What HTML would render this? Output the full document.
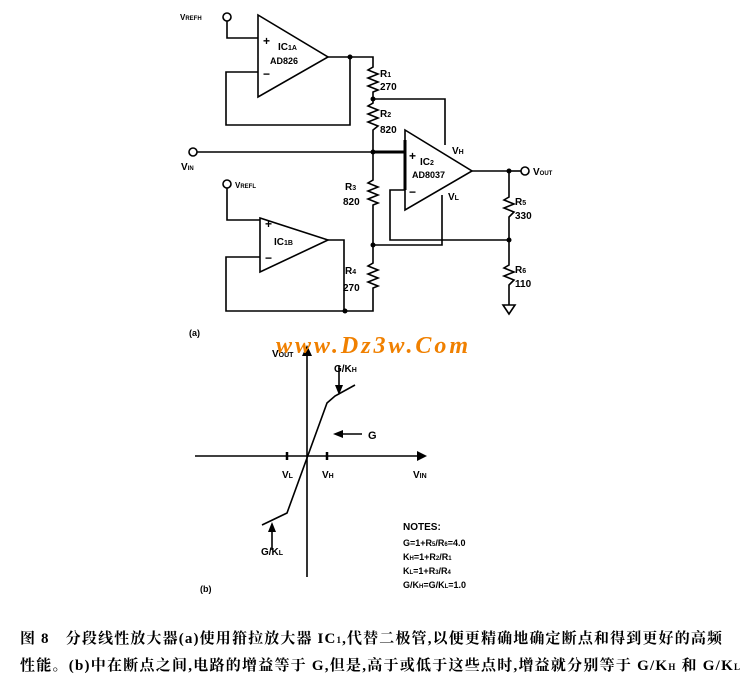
<!DOCTYPE html>
<html><head><meta charset="utf-8"><style>
html,body{margin:0;padding:0;background:#fff;}
svg{display:block}
text{font-family:"Liberation Sans",sans-serif;font-weight:bold;fill:#000}
.s{font-size:10px}
.cap{font-family:"Liberation Serif","Noto Serif CJK SC",serif;font-weight:bold;font-size:15px}
</style></head><body>
<svg width="742" height="684" viewBox="0 0 742 684" xmlns="http://www.w3.org/2000/svg">
<g fill="none" stroke="#000" stroke-width="1.6">
<polygon points="258,15 258,97 328,57"/>
<circle cx="227" cy="17" r="4"/>
<polyline points="227,21 227,38 258,38"/>
<polyline points="258,72 226,72 226,125 350,125 350,57"/>
<polyline points="328,57 373,57 373,67 368,70 378,74 368,78 378,82 368,86 378,90 373,92 373,103 368,106 378,110 368,114 378,118 368,122 378,126 373,130 373,180 368,183 378,187 368,191 378,195 368,199 378,203 373,205 373,263 368,266 378,270 368,274 378,278 368,282 378,286 373,288 373,311 226,311 226,257 260,257"/>
<circle cx="193" cy="152" r="4"/>
<line x1="197" y1="152" x2="373" y2="152"/>
<line x1="373" y1="152" x2="405" y2="152" stroke-width="3"/>
<polygon points="405,130 405,210 472,171"/>
<line x1="405" y1="140" x2="405" y2="190" stroke-width="3"/>
<polyline points="373,99 445,99 445,145"/>
<polyline points="442,195 442,245 373,245"/>
<polyline points="405,190 390,190 390,240 509,240"/>
<polyline points="472,171 509,171 509,197 504,200 514,204 504,208 514,212 509,217 509,265 504,268 514,272 504,276 514,280 509,285 509,305"/>
<line x1="509" y1="171" x2="521" y2="171"/>
<circle cx="525" cy="171" r="4"/>
<polygon points="503,305 515,305 509,314"/>
<polygon points="260,218 260,272 328,240"/>
<circle cx="227" cy="184" r="4"/>
<polyline points="227,188 227,220 260,220"/>
<polyline points="328,240 344,240 344,311"/>
<line x1="195" y1="456" x2="420" y2="456"/>
<line x1="307" y1="352" x2="307" y2="577"/>
<polyline points="262,525 287,513 327,403 335,396 355,385"/>
<line x1="287" y1="452" x2="287" y2="460" stroke-width="2.5"/>
<line x1="327" y1="452" x2="327" y2="460" stroke-width="2.5"/>
<line x1="339" y1="366" x2="339" y2="387"/>
<line x1="341" y1="434" x2="362" y2="434"/>
<line x1="272" y1="550" x2="272" y2="530"/>
</g>
<g fill="#000">
<circle cx="350" cy="57" r="2.5"/><circle cx="373" cy="99" r="2.5"/><circle cx="373" cy="152" r="2.5"/>
<circle cx="373" cy="245" r="2.5"/><circle cx="345" cy="311" r="2.5"/><circle cx="509" cy="171" r="2.5"/><circle cx="509" cy="240" r="2.5"/>
<polygon points="427,456 417,451 417,461"/>
<polygon points="307,345 302,356 312,356"/>
<polygon points="339,395 335,385 343,385"/>
<polygon points="333,434 343,430 343,438"/>
<polygon points="272,522 268,532 276,532"/>
</g>
<g class="s">
<text x="180" y="20" font-size="8">V<tspan font-size="6">REFH</tspan></text>
<text x="263" y="45" font-size="12">+</text>
<text x="263" y="78" font-size="12">−</text>
<text x="278" y="50">IC<tspan font-size="7">1A</tspan></text>
<text x="270" y="64" font-size="9">AD826</text>
<text x="380" y="77">R<tspan font-size="7">1</tspan></text><text x="380" y="90">270</text>
<text x="380" y="117">R<tspan font-size="7">2</tspan></text><text x="380" y="133">820</text>
<text x="181" y="170">V<tspan font-size="6">IN</tspan></text>
<text x="409" y="160" font-size="12">+</text>
<text x="409" y="196" font-size="12">−</text>
<text x="420" y="165">IC<tspan font-size="7">2</tspan></text>
<text x="412" y="178" font-size="9">AD8037</text>
<text x="452" y="154">V<tspan font-size="7">H</tspan></text>
<text x="448" y="200">V<tspan font-size="7">L</tspan></text>
<text x="533" y="175">V<tspan font-size="6">OUT</tspan></text>
<text x="345" y="190">R<tspan font-size="7">3</tspan></text><text x="343" y="205">820</text>
<text x="515" y="205">R<tspan font-size="7">5</tspan></text><text x="515" y="219">330</text>
<text x="515" y="273">R<tspan font-size="7">6</tspan></text><text x="515" y="287">110</text>
<text x="345" y="274">R<tspan font-size="7">4</tspan></text><text x="343" y="291">270</text>
<text x="235" y="188" font-size="8">V<tspan font-size="6">REFL</tspan></text>
<text x="265" y="228" font-size="12">+</text>
<text x="265" y="262" font-size="12">−</text>
<text x="274" y="245">IC<tspan font-size="7">1B</tspan></text>
<text x="189" y="336" font-size="9">(a)</text>
<text x="272" y="357">V<tspan font-size="7">OUT</tspan></text>
<text x="334" y="372">G/K<tspan font-size="7">H</tspan></text>
<text x="368" y="439" font-size="11" font-weight="normal">G</text>
<text x="282" y="478">V<tspan font-size="7">L</tspan></text>
<text x="322" y="478">V<tspan font-size="7">H</tspan></text>
<text x="413" y="478">V<tspan font-size="7">IN</tspan></text>
<text x="261" y="555">G/K<tspan font-size="7">L</tspan></text>
<text x="200" y="592" font-size="9">(b)</text>
<text x="403" y="530" font-size="10">NOTES:</text>
<text x="403" y="546" font-size="9" font-weight="normal">G=1+R<tspan font-size="6">5</tspan>/R<tspan font-size="6">6</tspan>=4.0</text>
<text x="403" y="560" font-size="9" font-weight="normal">K<tspan font-size="6">H</tspan>=1+R<tspan font-size="6">2</tspan>/R<tspan font-size="6">1</tspan></text>
<text x="403" y="574" font-size="9" font-weight="normal">K<tspan font-size="6">L</tspan>=1+R<tspan font-size="6">3</tspan>/R<tspan font-size="6">4</tspan></text>
<text x="403" y="588" font-size="9" font-weight="normal">G/K<tspan font-size="6">H</tspan>=G/K<tspan font-size="6">L</tspan>=1.0</text>
</g>
<text x="276" y="353" font-style="italic" font-weight="bold" font-size="24" style="fill:#f08000;font-family:'Liberation Serif',serif" textLength="192">www.Dz3w.Com</text>
<text class="cap" x="20" y="643" textLength="702">图 8　分段线性放大器(a)使用箝拉放大器 IC<tspan font-size="9">1</tspan>,代替二极管,以便更精确地确定断点和得到更好的高频</text>
<text class="cap" x="20" y="670" textLength="720">性能。(b)中在断点之间,电路的增益等于 G,但是,高于或低于这些点时,增益就分别等于 G/K<tspan font-size="9">H</tspan> 和 G/K<tspan font-size="9">L</tspan></text>
</svg>
</body></html>
